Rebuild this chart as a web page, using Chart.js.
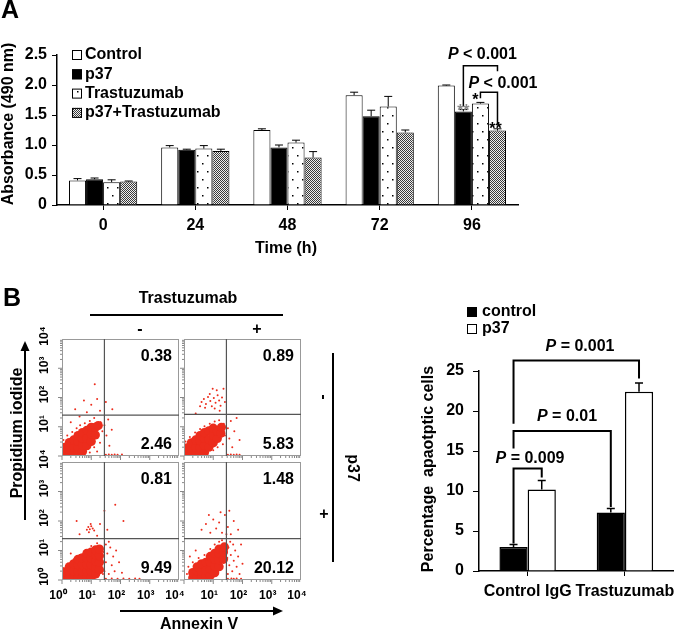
<!DOCTYPE html>
<html>
<head>
<meta charset="utf-8">
<script src="https://cdn.jsdelivr.net/npm/chart.js@4.4.1/dist/chart.umd.min.js"></script>
<style>
  html, body { margin: 0; padding: 0; background: #fff; }
  #page { position: relative; width: 681px; height: 632px; overflow: hidden; }
  #page canvas { position: absolute; left: 0; top: 0; }
</style>
</head>
<body>
<div id="page">
  <canvas id="chartA" width="681" height="632"></canvas>
  <canvas id="flowTL" width="681" height="632"></canvas>
  <canvas id="flowTR" width="681" height="632"></canvas>
  <canvas id="flowBL" width="681" height="632"></canvas>
  <canvas id="flowBR" width="681" height="632"></canvas>
  <canvas id="chartB" width="681" height="632"></canvas>
</div>
<script>
// ---------- Panel A: absorbance ----------
const timeLabels = ["0", "24", "48", "72", "96"];
const controlA = [0.41, 0.96, 1.25, 1.83, 1.99];
const controlAErr = [0.03, 0.03, 0.02, 0.05, 0.01];
const p37A = [0.43, 0.92, 0.96, 1.48, 1.56];
const p37AErr = [0.02, 0.01, 0.04, 0.10, 0.03];
const trastA = [0.38, 0.94, 1.04, 1.64, 1.69];
const trastAErr = [0.04, 0.05, 0.04, 0.17, 0.02];
const comboA = [0.39, 0.90, 0.79, 1.21, 1.24];
const comboAErr = [0.01, 0.03, 0.10, 0.04, 0.03];

// ---------- Panel B: flow cytometry (log10 decades) ----------
const quadTL = [0.38, 2.46];
const quadTR = [0.89, 5.83];
const quadBL = [0.81, 9.49];
const quadBR = [1.48, 20.12];

const coreTL = [
  [0.1,0.08],[0.1,0.3],[0.25,0.08],[0.25,0.3],[0.25,0.46],
  [0.4,0.08],[0.4,0.3],[0.4,0.55],[0.55,0.08],[0.55,0.3],[0.55,0.5],[0.55,0.7],
  [0.7,0.15],[0.7,0.38],[0.7,0.6],[0.7,0.8],[0.85,0.35],[0.85,0.6],[0.85,0.88],
  [1.0,0.5],[1.0,0.75],[1.0,0.98],[1.14,0.72],[1.14,0.98],[1.24,1.04]
];
const dotsTL = [
  [0.05,0.55],[0.18,0.7],[0.35,0.82],[0.5,0.95],[0.62,1.05],[0.78,1.12],[0.95,1.2],[1.1,1.3],
  [0.3,1.15],[0.6,1.35],[0.85,1.5],[1.0,1.75],[0.75,1.9],[1.12,2.45],[1.3,1.55],[0.45,1.6],[1.2,1.95],
  [1.32,1.15],[1.38,0.85],[1.3,0.45],[1.45,1.05],[1.52,0.7],[1.58,1.25],[1.62,0.35],[1.7,0.9],
  [1.72,1.6],[1.5,1.85],[1.1,0.3],[1.2,0.15],[0.95,0.12],
  [1.5,0.04],[1.6,0.05],[1.7,0.04],[1.8,0.05],[1.9,0.04],[2.05,0.05]
];
const coreTR = [
  [0.1,0.08],[0.1,0.28],[0.25,0.08],[0.25,0.3],[0.25,0.45],
  [0.4,0.08],[0.4,0.3],[0.4,0.55],[0.55,0.08],[0.55,0.3],[0.55,0.52],[0.55,0.7],
  [0.7,0.12],[0.7,0.36],[0.7,0.6],[0.7,0.8],[0.85,0.3],[0.85,0.56],[0.85,0.86],
  [1.0,0.45],[1.0,0.72],[1.0,0.95],[1.14,0.6],[1.14,0.85],[1.26,0.78],[1.28,0.98]
];
const dotsTR = [
  [0.6,1.85],[0.68,1.95],[0.75,1.78],[0.82,2.02],[0.9,1.88],[0.95,1.7],[1.02,1.98],[1.08,1.82],
  [1.15,2.08],[1.2,1.9],[1.25,1.72],[0.72,1.65],[0.88,2.12],[1.05,1.62],[1.3,2.0],[0.55,1.7],
  [1.12,2.25],[0.98,2.3],[1.4,1.85],[1.22,1.55],[0.4,1.45],[1.35,2.3],
  [0.05,0.5],[0.2,0.65],[0.38,0.8],[0.55,0.92],[0.7,1.02],[0.88,1.1],[1.05,1.18],[1.2,1.22],
  [1.36,1.1],[1.4,0.7],[1.33,0.4],[1.5,0.95],[1.55,0.6],[1.6,1.2],[1.65,0.3],[1.72,0.85],
  [1.8,1.3],[1.9,0.55],[1.15,0.3],[1.0,0.2],
  [1.5,0.04],[1.6,0.05],[1.7,0.04],[1.8,0.05],[1.9,0.04]
];
const coreBL = [
  [0.1,0.08],[0.1,0.28],[0.25,0.08],[0.25,0.3],[0.25,0.45],
  [0.4,0.08],[0.4,0.3],[0.4,0.55],[0.55,0.08],[0.55,0.3],[0.55,0.52],[0.55,0.7],
  [0.7,0.08],[0.7,0.3],[0.7,0.52],[0.7,0.75],[0.85,0.08],[0.85,0.3],[0.85,0.52],[0.85,0.75],[0.85,0.9],
  [1.0,0.1],[1.0,0.3],[1.0,0.52],[1.0,0.75],[1.0,0.95],
  [1.15,0.2],[1.15,0.42],[1.15,0.64],[1.15,0.86],[1.15,1.02],
  [1.28,0.35],[1.28,0.6],[1.28,0.82],[1.28,1.05]
];
const dotsBL = [
  [0.85,1.7],[0.9,1.8],[0.95,1.72],[1.0,1.82],[1.05,1.75],[0.92,1.62],[1.1,1.68],[0.98,1.9],
  [0.6,1.55],[1.2,1.5],[1.3,1.9],[1.82,2.55],[1.55,1.7],[2.1,2.0],[0.5,2.0],[1.45,2.35],
  [1.45,0.3],[1.5,0.6],[1.55,0.9],[1.6,0.2],[1.65,1.1],[1.7,0.5],[1.75,0.8],[1.8,0.3],
  [1.5,1.2],[1.85,1.0],[1.95,0.6],[1.6,1.3],[1.42,0.95],[2.05,0.25],
  [1.5,0.04],[1.7,0.05],[1.9,0.04],[2.1,0.05],[2.3,0.04],[2.5,0.05],[2.65,0.04],
  [0.05,0.4],[0.2,0.55],[0.4,0.7],[0.6,0.85],[0.8,1.0],[1.0,1.15],[1.2,1.25],[1.38,0.6],[1.4,0.2],[0.3,0.9]
];
const coreBR = [
  [0.3,0.08],[0.3,0.25],[0.45,0.08],[0.45,0.3],[0.45,0.45],
  [0.6,0.08],[0.6,0.3],[0.6,0.55],[0.75,0.1],[0.75,0.32],[0.75,0.6],
  [0.9,0.15],[0.9,0.38],[0.9,0.6],[0.9,0.8],[1.05,0.25],[1.05,0.48],[1.05,0.7],[1.05,0.9],
  [1.2,0.45],[1.2,0.68],[1.2,0.9],[1.2,1.05],[1.35,0.7],[1.35,0.95],[1.38,1.12]
];
const dotsBR = [
  [1.5,0.2],[1.55,0.5],[1.6,0.85],[1.52,1.1],[1.65,0.3],[1.7,0.65],[1.75,1.0],[1.8,0.45],
  [1.85,0.8],[1.9,0.2],[1.95,1.2],[2.0,0.55],[1.58,1.3],[1.68,1.2],[1.48,0.75],[1.62,0.05],
  [1.5,0.04],[1.7,0.04],[1.8,0.05],[1.95,0.04],
  [0.6,1.7],[0.75,1.9],[0.9,1.6],[1.0,2.05],[1.1,1.75],[1.2,1.95],[1.3,1.6],[1.4,2.2],
  [1.5,1.8],[1.6,1.55],[1.7,2.0],[1.85,1.7],[0.85,2.2],[1.25,2.3],[1.45,1.55],[1.55,2.35],
  [0.1,0.2],[0.15,0.45],[0.3,0.6],[0.5,0.75],[0.7,0.85],[0.9,1.05],[1.05,1.2],[1.2,1.3],
  [1.3,1.35],[0.4,1.0],[0.2,0.8]
];

// ---------- Panel B: apoptosis bars ----------
const groupsB = ["Control IgG", "Trastuzumab"];
const controlB = [3.0, 7.3];
const controlBErr = [0.3, 0.5];
const p37B = [10.2, 22.4];
const p37BErr = [1.1, 1.1];

const FONT = 'Arial, "Liberation Sans", Helvetica, sans-serif';
const RED = "rgb(236,44,28)";
const SUP = ["\u2070", "\u00b9", "\u00b2", "\u00b3", "\u2074"];

Chart.defaults.font.family = FONT;
Chart.defaults.color = "#000";
Chart.defaults.animation = false;

function txt(ctx, s, x, y, size, o = {}) {
  ctx.save();
  ctx.font = (o.italic ? "italic " : "") + "bold " + size + "px " + FONT;
  ctx.fillStyle = o.color || "#000";
  ctx.textAlign = o.align || "center";
  ctx.textBaseline = o.baseline || "middle";
  ctx.translate(x, y);
  if (o.rot) ctx.rotate(o.rot);
  ctx.fillText(s, 0, 0);
  ctx.restore();
}

// italic P + upright rest, centred on cx
function pText(ctx, rest, cx, cy, size) {
  ctx.save();
  const fi = "italic bold " + size + "px " + FONT;
  const fb = "bold " + size + "px " + FONT;
  ctx.font = fi; const wP = ctx.measureText("P").width;
  ctx.font = fb; const wR = ctx.measureText(rest).width;
  const x0 = cx - (wP + wR) / 2;
  ctx.fillStyle = "#000"; ctx.textAlign = "left"; ctx.textBaseline = "middle";
  ctx.font = fi; ctx.fillText("P", x0, cy);
  ctx.font = fb; ctx.fillText(rest, x0 + wP, cy);
  ctx.restore();
}

function bracket(ctx, x1, yl, x2, yr, top, lw) {
  ctx.save();
  ctx.strokeStyle = "#000"; ctx.lineWidth = lw;
  ctx.beginPath();
  ctx.moveTo(x1, yl); ctx.lineTo(x1, top); ctx.lineTo(x2, top); ctx.lineTo(x2, yr);
  ctx.stroke();
  ctx.restore();
}

function arrow(ctx, x1, y1, x2, y2) {
  const a = Math.atan2(y2 - y1, x2 - x1);
  ctx.save();
  ctx.strokeStyle = "#000"; ctx.fillStyle = "#000"; ctx.lineWidth = 2;
  ctx.beginPath(); ctx.moveTo(x1, y1);
  ctx.lineTo(x2 - 8 * Math.cos(a), y2 - 8 * Math.sin(a)); ctx.stroke();
  ctx.translate(x2, y2); ctx.rotate(a);
  ctx.beginPath(); ctx.moveTo(0, 0); ctx.lineTo(-10, -4.5); ctx.lineTo(-10, 4.5); ctx.closePath(); ctx.fill();
  ctx.restore();
}

// bar fills
const patCtx = document.getElementById("chartA").getContext("2d");
function dotPattern() {
  const c = document.createElement("canvas");
  c.width = 10; c.height = 16;
  const g = c.getContext("2d");
  g.fillStyle = "#fff"; g.fillRect(0, 0, 10, 16);
  g.fillStyle = "#000";
  g.fillRect(2, 3, 1.5, 1.5); g.fillRect(7, 11, 1.5, 1.5);
  return patCtx.createPattern(c, "repeat");
}
function checkerPattern() {
  const c = document.createElement("canvas");
  c.width = 2; c.height = 2;
  const g = c.getContext("2d");
  g.fillStyle = "#eee"; g.fillRect(0, 0, 2, 2);
  g.fillStyle = "#3a3a3a"; g.fillRect(0, 0, 1, 1); g.fillRect(1, 1, 1, 1);
  return patCtx.createPattern(c, "repeat");
}
const dots = dotPattern();
const checker = checkerPattern();

// upward error bars from dataset.err
const errorBars = {
  id: "errorBars",
  afterDatasetsDraw(chart, args, opts) {
    const ctx = chart.ctx, y = chart.scales.y;
    ctx.save();
    ctx.strokeStyle = "#000"; ctx.lineWidth = opts.width || 1;
    chart.data.datasets.forEach((ds, i) => {
      chart.getDatasetMeta(i).data.forEach((bar, j) => {
        const top = y.getPixelForValue(ds.data[j] + ds.err[j]);
        ctx.beginPath();
        ctx.moveTo(bar.x, bar.y); ctx.lineTo(bar.x, top);
        ctx.moveTo(bar.x - opts.cap, top); ctx.lineTo(bar.x + opts.cap, top);
        ctx.stroke();
      });
    });
    ctx.restore();
  }
};

// ======== Panel A ========
const panelADecor = {
  id: "panelADecor",
  afterDraw(chart) {
    const ctx = chart.ctx, y = chart.scales.y;
    txt(ctx, "A", 1, 11, 25, { align: "left" });
    txt(ctx, "Absorbance (490 nm)", 9, 124, 16, { rot: -Math.PI / 2 });
    txt(ctx, "Time (h)", 286, 249, 16);

    // legend
    const fills = ["#fff", "#000", dots, checker];
    chart.data.datasets.forEach((ds, i) => {
      const cy = 55 + i * 19.3;
      ctx.save();
      ctx.fillStyle = fills[i]; ctx.fillRect(72, cy - 5, 10, 10);
      ctx.strokeStyle = "#000"; ctx.lineWidth = 1; ctx.strokeRect(72.5, cy - 4.5, 9, 9);
      ctx.restore();
      txt(ctx, ds.label, 85, cy, 16, { align: "left" });
    });

    // significance at 96 h
    const xp = chart.getDatasetMeta(1).data[4].x;
    const xt = chart.getDatasetMeta(2).data[4].x;
    const xc = chart.getDatasetMeta(3).data[4].x;
    bracket(ctx, xp, y.getPixelForValue(1.64), xc, y.getPixelForValue(2.23), y.getPixelForValue(2.32), 1.5);
    bracket(ctx, xt, y.getPixelForValue(1.78), xc, y.getPixelForValue(1.35), y.getPixelForValue(1.88), 1.5);
    pText(ctx, " < 0.001", (xp + xc) / 2 + 2, y.getPixelForValue(2.5), 16);
    pText(ctx, " < 0.001", (xt + xc) / 2 + 14, y.getPixelForValue(2.03), 16);
    txt(ctx, "**", xp, 116, 16, { baseline: "alphabetic", color: "#888" });
    txt(ctx, "*", xt - 5, 105, 16, { baseline: "alphabetic" });
    txt(ctx, "**", xc - 2, 134, 16, { baseline: "alphabetic" });
  }
};

new Chart(document.getElementById("chartA"), {
  type: "bar",
  data: {
    labels: timeLabels,
    datasets: [
      { label: "Control", data: controlA, err: controlAErr, backgroundColor: "#fff" },
      { label: "p37", data: p37A, err: p37AErr, backgroundColor: "#000" },
      { label: "Trastuzumab", data: trastA, err: trastAErr, backgroundColor: dots },
      { label: "p37+Trastuzumab", data: comboA, err: comboAErr, backgroundColor: checker }
    ]
  },
  options: {
    responsive: false,
    devicePixelRatio: 1,
    layout: { padding: { left: 0, top: 55, right: 163, bottom: 372 } },
    datasets: { bar: { borderColor: "#000", borderWidth: 1, categoryPercentage: 0.74, barPercentage: 1 } },
    plugins: { legend: { display: false }, tooltip: { enabled: false }, errorBars: { cap: 4, width: 1 } },
    scales: {
      x: {
        grid: { drawOnChartArea: false, offset: false, tickLength: 5, color: "#000" },
        border: { color: "#000", width: 1.5 },
        ticks: { font: { size: 16, weight: "bold" }, color: "#000", padding: 6, maxRotation: 0 },
        afterFit(s) { s.height = 55; }
      },
      y: {
        min: 0, max: 2.5,
        grid: { drawOnChartArea: false, tickLength: 5, color: "#000" },
        border: { color: "#000", width: 1.5 },
        ticks: { stepSize: 0.5, font: { size: 16, weight: "bold" }, color: "#000", padding: 5 },
        afterFit(s) { s.width = 57; }
      }
    }
  },
  plugins: [errorBars, panelADecor]
});

// ======== Panel B: flow plots ========
function flowDecor(box, nums, yLabels, qx, qy) {
  return {
    id: "flowDecor",
    afterDatasetsDraw(chart) {
      const ctx = chart.ctx, xs = chart.scales.x, ys = chart.scales.y;
      ctx.save();
      // outline
      ctx.strokeStyle = "#999"; ctx.lineWidth = 1;
      ctx.strokeRect(box.l + 0.5, box.t + 0.5, box.r - box.l - 1, box.b - box.t - 1);
      // log ticks on left and bottom
      ctx.strokeStyle = "#888";
      for (let d = 0; d < 4; d++) {
        for (let m = 1; m <= 9; m++) {
          const v = d + Math.log10(m), len = m === 1 ? 4 : 2;
          const px = xs.getPixelForValue(v), py = ys.getPixelForValue(v);
          ctx.beginPath();
          ctx.moveTo(px, box.b); ctx.lineTo(px, box.b + len);
          ctx.moveTo(box.l, py); ctx.lineTo(box.l - len, py);
          ctx.stroke();
        }
      }
      // quadrant gates
      ctx.strokeStyle = "#555"; ctx.lineWidth = 1.2;
      const gx = xs.getPixelForValue(qx), gy = ys.getPixelForValue(qy);
      ctx.beginPath();
      ctx.moveTo(gx, box.t); ctx.lineTo(gx, box.b);
      ctx.moveTo(box.l, gy); ctx.lineTo(box.r, gy);
      ctx.stroke();
      ctx.restore();
      txt(ctx, nums[0].toFixed(2), box.r - 7, box.t + 18, 16, { align: "right" });
      txt(ctx, nums[1].toFixed(2), box.r - 7, box.b - 11, 16, { align: "right" });
      yLabels.forEach(d => {
        txt(ctx, "10" + SUP[d], 45, ys.getPixelForValue(d) - 3, 12, { rot: -Math.PI / 2 });
      });
    }
  };
}

function makeFlow(id, box, core, scatter, nums, showX, xFrom, yLabels, qy) {
  return new Chart(document.getElementById(id), {
    type: "scatter",
    data: {
      datasets: [
        { data: core, pointRadius: 4.6, backgroundColor: RED, borderWidth: 0 },
        { data: scatter, pointRadius: 1, backgroundColor: RED, borderWidth: 0 }
      ]
    },
    options: {
      responsive: false,
      devicePixelRatio: 1,
      layout: {
        padding: { left: box.l, top: box.t, right: 681 - box.r, bottom: showX ? 632 - box.b - 30 : 632 - box.b }
      },
      plugins: { legend: { display: false }, tooltip: { enabled: false } },
      elements: { point: { hoverRadius: 1 } },
      scales: {
        x: {
          type: "linear", min: 0, max: 4, display: showX,
          grid: { display: false, drawTicks: false },
          border: { display: false },
          ticks: {
            stepSize: 1, padding: 8, labelOffset: -4, maxRotation: 0, autoSkip: false,
            font: { size: 12, weight: "bold" }, color: "#000",
            callback: v => (v >= xFrom ? "10" + SUP[v] : "")
          },
          afterFit(s) { s.height = showX ? 30 : 0; }
        },
        y: { type: "linear", min: 0, max: 4, display: false }
      }
    },
    plugins: [flowDecor(box, nums, yLabels, 1.45, qy)]
  });
}

const boxTL = { l: 62, t: 339, r: 179, b: 456 };
const boxTR = { l: 184, t: 339, r: 301, b: 456 };
const boxBL = { l: 62, t: 462, r: 179, b: 580 };
const boxBR = { l: 184, t: 462, r: 301, b: 580 };

makeFlow("flowTL", boxTL, coreTL, dotsTL, quadTL, false, 0, [1, 2, 3, 4], 1.4);
makeFlow("flowTR", boxTR, coreTR, dotsTR, quadTR, false, 0, [], 1.42);
makeFlow("flowBL", boxBL, coreBL, dotsBL, quadBL, true, 0, [0, 1, 2, 3, 4], 1.4);
makeFlow("flowBR", boxBR, coreBR, dotsBR, quadBR, true, 1, [], 1.4);

// ======== Panel B: bar chart + figure labels ========
const panelBDecor = {
  id: "panelBDecor",
  afterDraw(chart) {
    const ctx = chart.ctx, y = chart.scales.y;
    // figure labels for the flow block
    txt(ctx, "B", 3, 299, 25, { align: "left" });
    txt(ctx, "Trastuzumab", 188, 299, 16);
    ctx.save(); ctx.strokeStyle = "#000"; ctx.lineWidth = 2;
    ctx.beginPath(); ctx.moveTo(90, 315); ctx.lineTo(283, 315);
    ctx.moveTo(333, 353); ctx.lineTo(333, 562); ctx.stroke(); ctx.restore();
    txt(ctx, "-", 140, 330, 16);
    txt(ctx, "+", 257, 330, 16);
    txt(ctx, "-", 323, 397, 16, { rot: Math.PI / 2 });
    txt(ctx, "+", 324, 515, 16);
    txt(ctx, "p37", 352, 468, 16, { rot: Math.PI / 2 });
    txt(ctx, "Propidium iodide", 18, 433, 16, { rot: -Math.PI / 2 });
    arrow(ctx, 25, 520, 25, 341);
    txt(ctx, "Annexin V", 199, 625, 16);
    arrow(ctx, 120, 611, 283, 611);

    // bar chart legend
    ctx.save();
    ctx.fillStyle = "#000"; ctx.fillRect(467, 307, 10, 10);
    ctx.fillStyle = "#fff"; ctx.fillRect(467, 324, 10, 10);
    ctx.strokeStyle = "#000"; ctx.lineWidth = 1; ctx.strokeRect(467.5, 324.5, 9, 9);
    ctx.restore();
    txt(ctx, chart.data.datasets[0].label, 482, 312, 16, { align: "left" });
    txt(ctx, chart.data.datasets[1].label, 482, 329, 16, { align: "left" });
    txt(ctx, "Percentage  apaotptic cells", 429, 469, 16, { rot: -Math.PI / 2 });

    // significance brackets
    const c0 = chart.getDatasetMeta(0).data[0].x;
    const p0 = chart.getDatasetMeta(1).data[0].x;
    const c1 = chart.getDatasetMeta(0).data[1].x;
    const p1 = chart.getDatasetMeta(1).data[1].x;
    const v = val => y.getPixelForValue(val);
    bracket(ctx, c0, v(3.45), p0, v(11.7), v(12.8), 2);
    bracket(ctx, c0, v(15.3), c1, v(8.0), v(17.5), 2);
    bracket(ctx, c0, v(18.4), p1, v(24.05), v(26.3), 2);
    pText(ctx, " = 0.009", 530, v(14.1), 16);
    pText(ctx, " = 0.01", 567, v(19.3), 16);
    pText(ctx, " = 0.001", 580, v(28.0), 16);
  }
};

new Chart(document.getElementById("chartB"), {
  type: "bar",
  data: {
    labels: groupsB,
    datasets: [
      { label: "control", data: controlB, err: controlBErr, backgroundColor: "#000" },
      { label: "p37", data: p37B, err: p37BErr, backgroundColor: "#fff" }
    ]
  },
  options: {
    responsive: false,
    devicePixelRatio: 1,
    layout: { padding: { left: 400, top: 371, right: 3, bottom: 0 } },
    datasets: { bar: { borderColor: "#000", borderWidth: 1.5, categoryPercentage: 0.58, barPercentage: 1 } },
    plugins: { legend: { display: false }, tooltip: { enabled: false }, errorBars: { cap: 4, width: 1.5 } },
    scales: {
      x: {
        grid: { drawOnChartArea: false, offset: false, tickLength: 5, color: "#000" },
        border: { color: "#000", width: 1.5 },
        ticks: { font: { size: 16, weight: "bold" }, color: "#000", padding: 6, maxRotation: 0, autoSkip: false },
        afterFit(s) { s.height = 61; }
      },
      y: {
        min: 0, max: 25,
        grid: { drawOnChartArea: false, tickLength: 6, color: "#000" },
        border: { color: "#000", width: 1.5 },
        ticks: { stepSize: 5, font: { size: 16, weight: "bold" }, color: "#000", padding: 9 },
        afterFit(s) { s.width = 79; }
      }
    }
  },
  plugins: [errorBars, panelBDecor]
});
</script>
</body>
</html>
